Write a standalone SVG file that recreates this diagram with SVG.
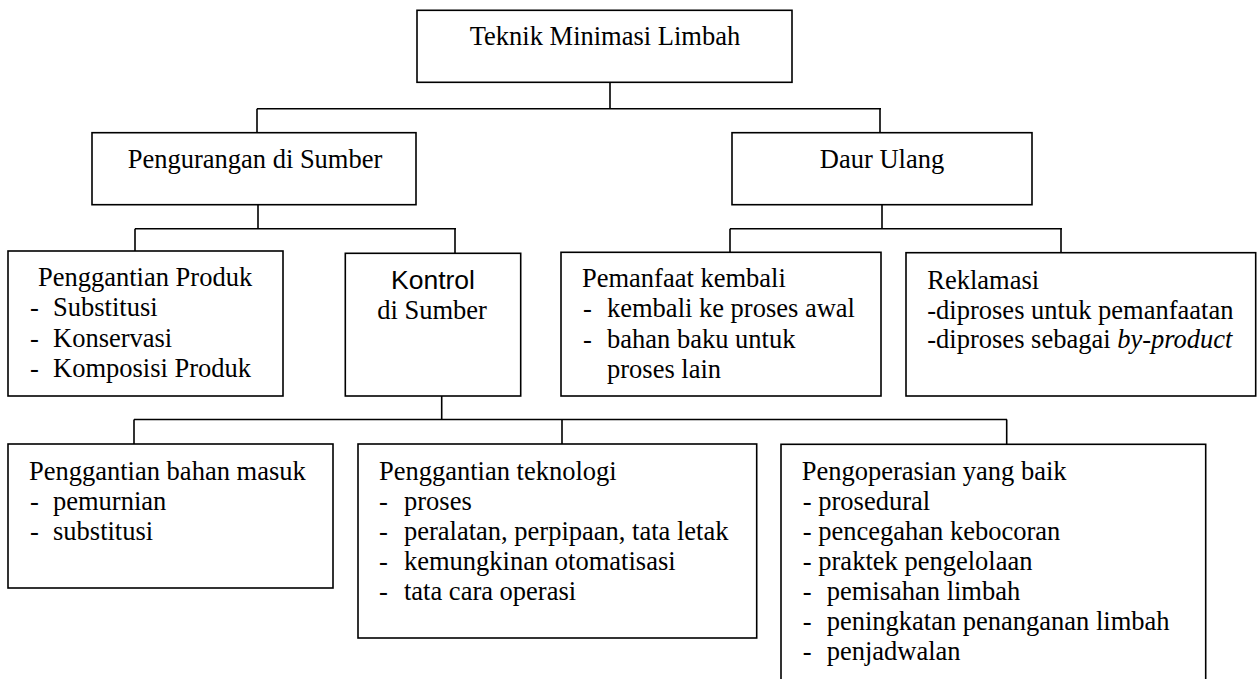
<svg xmlns="http://www.w3.org/2000/svg" width="1258" height="679" viewBox="0 0 1258 679">
<style>
.box{fill:#fff;stroke:#000;stroke-width:1.6}
.ln{fill:none;stroke:#000;stroke-width:1.6}
text{font-family:"Liberation Serif","Times New Roman",serif;font-size:26.5px;fill:#000}
.sans{font-family:"Liberation Sans",Arial,sans-serif}
.c{text-anchor:middle}
</style>
<rect width="1258" height="679" fill="#fff"/>
<g id="connectors">
<path class="ln" d="M610,82 V108.7 M257,108.7 H881 M257,108.7 V132.7 M880,108.7 V132.7"/>
<path class="ln" d="M258,204.7 V228.7 M135,228.7 H456 M135,228.7 V251 M455,228.7 V253.3"/>
<path class="ln" d="M882,204.7 V228.7 M730,228.7 H1062 M730,228.7 V252.3 M1061,228.7 V254"/>
<path class="ln" d="M441.7,396 V419.5 M134,419.5 H1007 M134,419.5 V444 M562,419.5 V444 M1006.7,419.5 V444.3"/>
</g>
<g id="n-top">
<rect class="box" x="417" y="10.3" width="375" height="72"/>
<text class="c" x="605" y="45">Teknik Minimasi Limbah</text>
</g>
<g id="n-pengurangan">
<rect class="box" x="92" y="132.7" width="324" height="72"/>
<text class="c" x="255" y="168">Pengurangan di Sumber</text>
</g>
<g id="n-daur">
<rect class="box" x="732" y="132.7" width="300" height="72"/>
<text class="c" x="882" y="168">Daur Ulang</text>
</g>
<g id="n-penggantian-produk">
<rect class="box" x="8" y="251" width="275" height="145"/>
<text x="38" y="286">Penggantian Produk</text>
<text y="316"><tspan x="30">-</tspan><tspan x="53">Substitusi</tspan></text>
<text y="346.5"><tspan x="30">-</tspan><tspan x="53">Konservasi</tspan></text>
<text y="377"><tspan x="30">-</tspan><tspan x="53">Komposisi Produk</tspan></text>
</g>
<g id="n-kontrol">
<rect class="box" x="345.3" y="253.3" width="175.4" height="142.7"/>
<text class="c sans" x="433" y="289">Kontrol</text>
<text class="c" x="432" y="319.3">di Sumber</text>
</g>
<g id="n-pemanfaat">
<rect class="box" x="561" y="252.3" width="320" height="143.7"/>
<text x="582" y="287">Pemanfaat kembali</text>
<text y="317"><tspan x="583">-</tspan><tspan x="607">kembali ke proses awal</tspan></text>
<text y="347.5"><tspan x="583">-</tspan><tspan x="607">bahan baku untuk</tspan></text>
<text x="607" y="378">proses lain</text>
</g>
<g id="n-reklamasi">
<rect class="box" x="906" y="252.7" width="349.7" height="143.3"/>
<text x="927.3" y="289">Reklamasi</text>
<text x="927.3" y="319">-diproses untuk pemanfaatan</text>
<text x="927.3" y="348.3">-diproses sebagai <tspan font-style="italic">by-product</tspan></text>
</g>
<g id="n-bahan-masuk">
<rect class="box" x="8" y="444" width="325" height="144"/>
<text x="29" y="480">Penggantian bahan masuk</text>
<text y="510"><tspan x="30">-</tspan><tspan x="53">pemurnian</tspan></text>
<text y="540"><tspan x="30">-</tspan><tspan x="53">substitusi</tspan></text>
</g>
<g id="n-teknologi">
<rect class="box" x="358" y="444" width="398.7" height="194"/>
<text x="379" y="480">Penggantian teknologi</text>
<text y="510"><tspan x="379">-</tspan><tspan x="404">proses</tspan></text>
<text y="540"><tspan x="379">-</tspan><tspan x="404">peralatan, perpipaan, tata letak</tspan></text>
<text y="570"><tspan x="379">-</tspan><tspan x="404">kemungkinan otomatisasi</tspan></text>
<text y="600"><tspan x="379">-</tspan><tspan x="404">tata cara operasi</tspan></text>
</g>
<g id="n-pengoperasian">
<rect class="box" x="781" y="444.3" width="424.7" height="240"/>
<text x="801.7" y="480">Pengoperasian yang baik</text>
<text y="510"><tspan x="802.7">-</tspan><tspan x="818.3">prosedural</tspan></text>
<text y="540"><tspan x="802.7">-</tspan><tspan x="818.3">pencegahan kebocoran</tspan></text>
<text y="570"><tspan x="802.7">-</tspan><tspan x="818.3">praktek pengelolaan</tspan></text>
<text y="600"><tspan x="802.7">-</tspan><tspan x="826.7">pemisahan limbah</tspan></text>
<text y="630"><tspan x="802.7">-</tspan><tspan x="826.7">peningkatan penanganan limbah</tspan></text>
<text y="660"><tspan x="802.7">-</tspan><tspan x="826.7">penjadwalan</tspan></text>
</g>
</svg>
